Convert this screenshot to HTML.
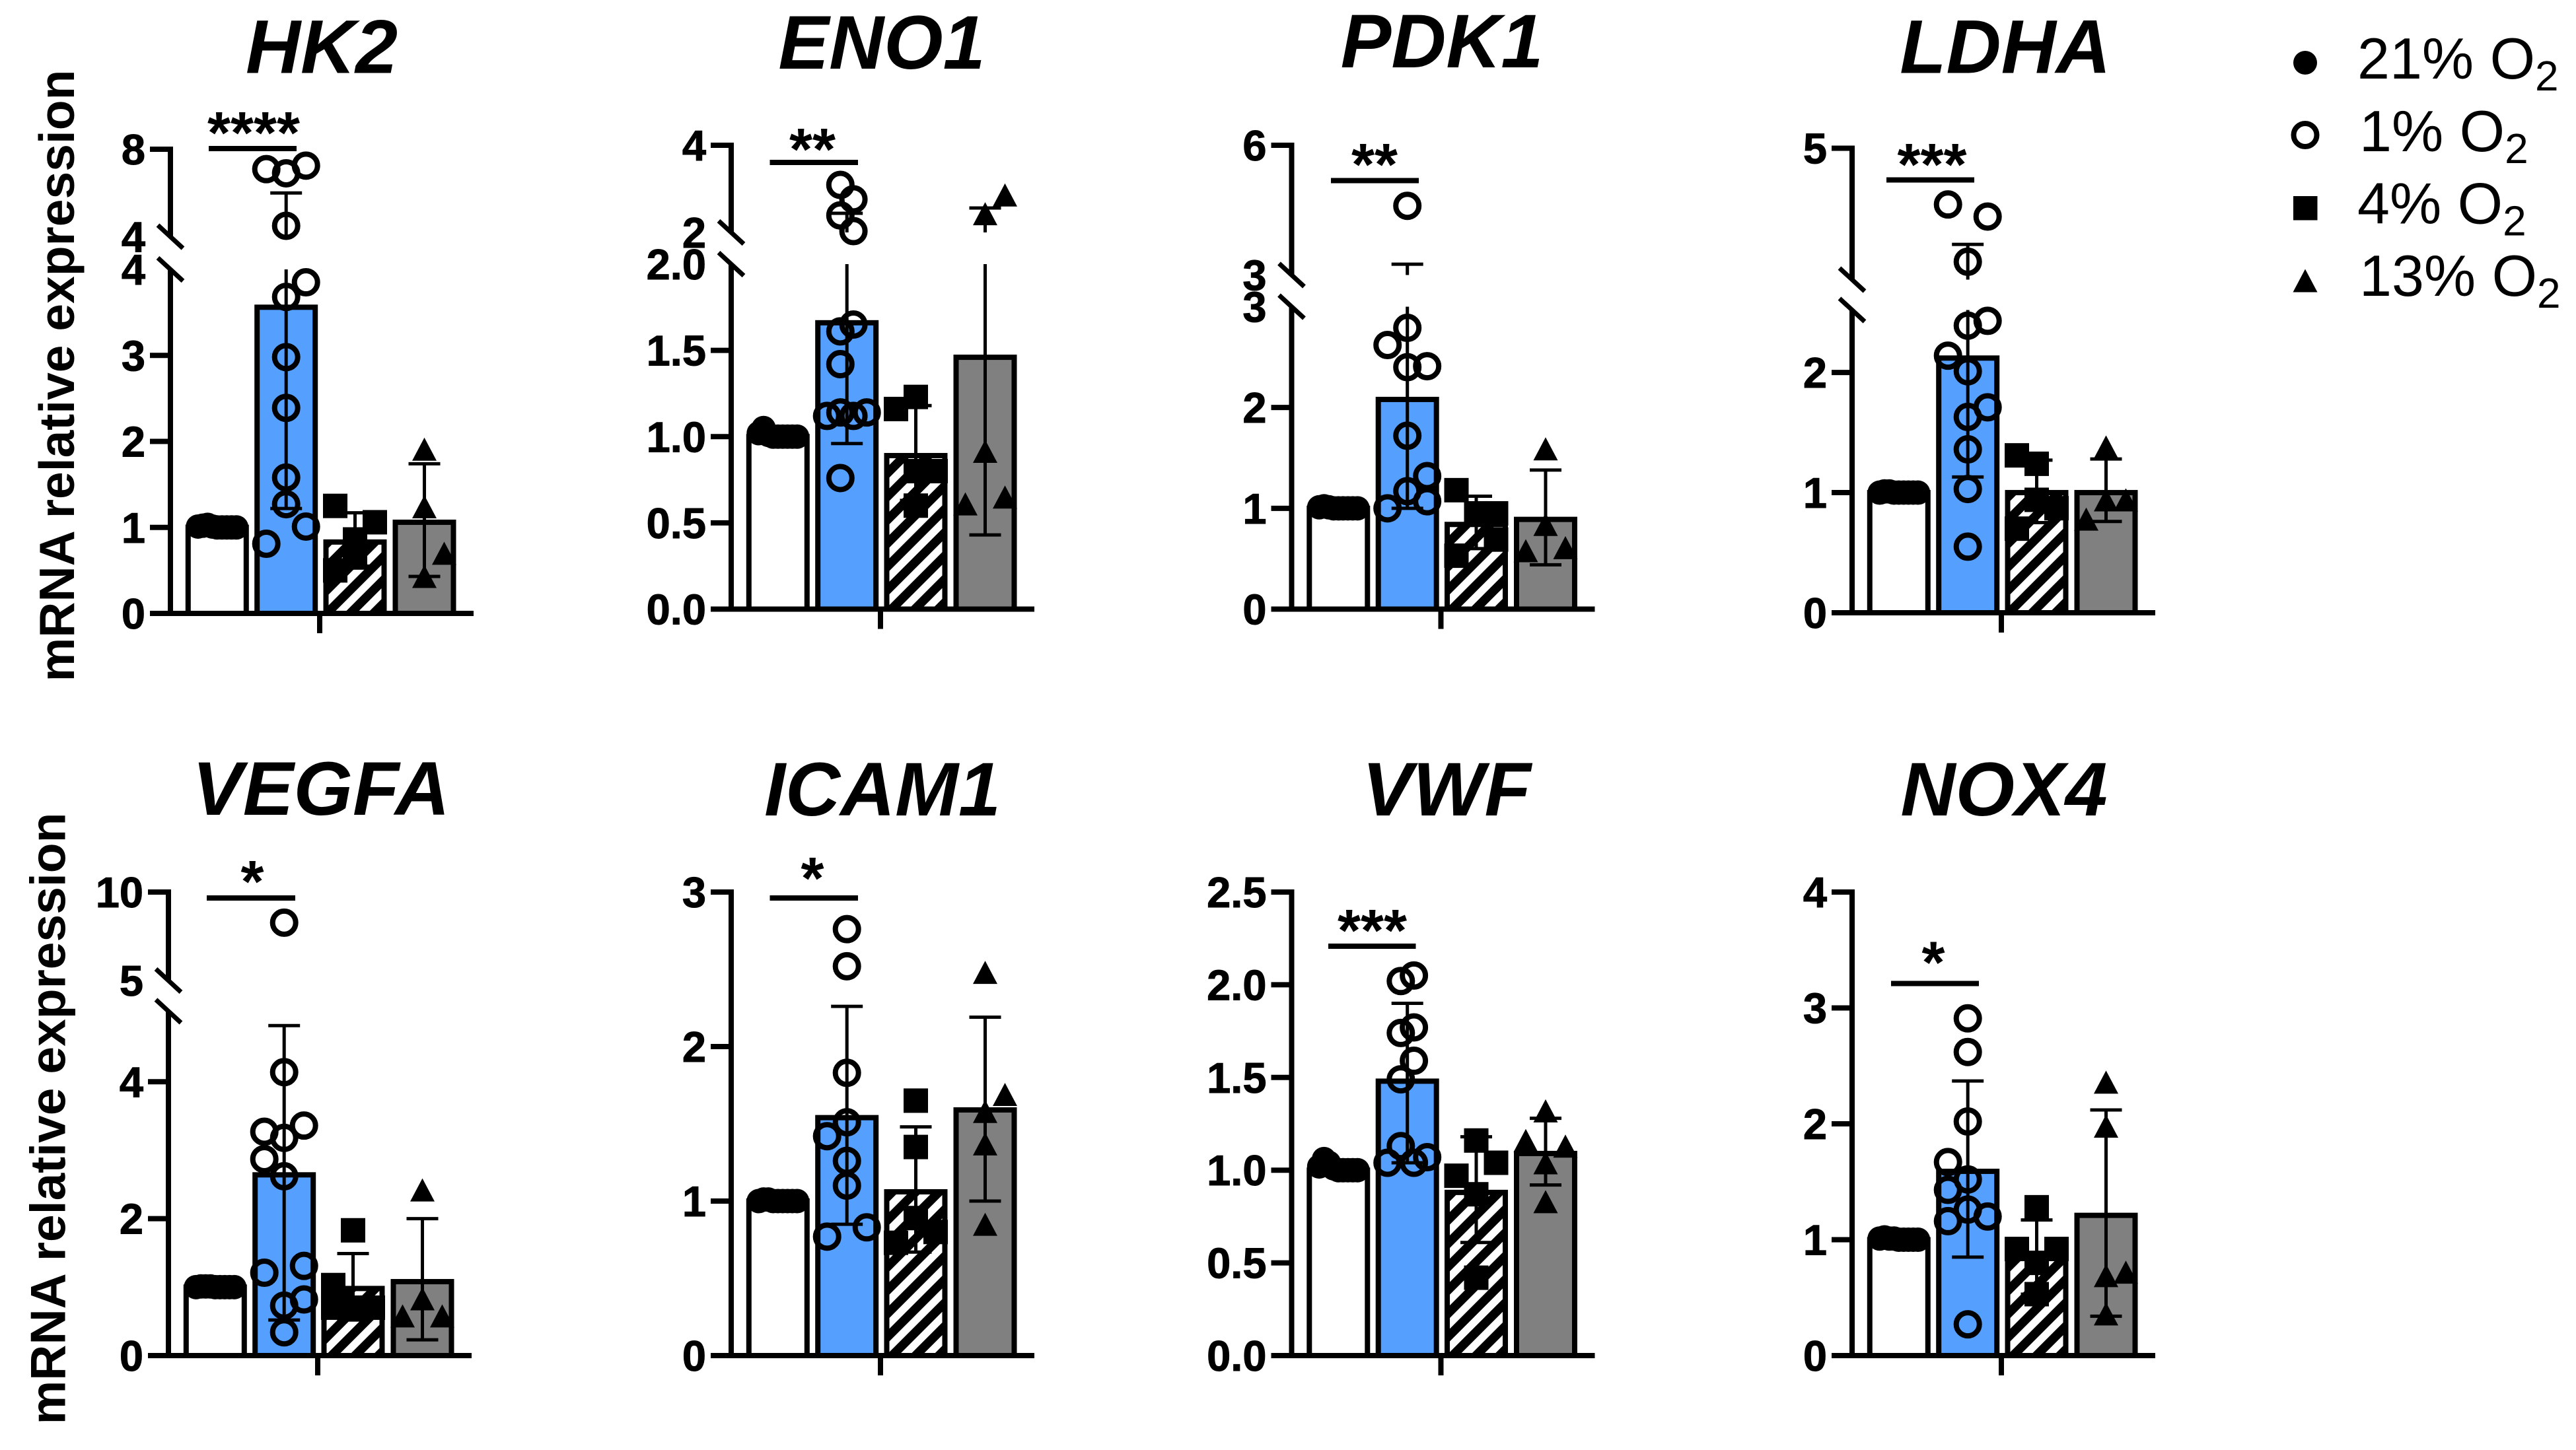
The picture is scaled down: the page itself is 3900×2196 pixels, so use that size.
<!DOCTYPE html>
<html lang="en">
<head>
<meta charset="utf-8">
<title>mRNA relative expression under oxygen conditions</title>
<style>
html,body{margin:0;padding:0;background:#fff;width:3900px;height:2196px;overflow:hidden}
svg{display:block}
text{font-family:"Liberation Sans",sans-serif;fill:#000}
.title{font-size:115px;font-weight:bold;font-style:italic;text-anchor:middle}
.ytitle{font-size:75px;font-weight:bold;text-anchor:middle}
.stars{font-size:90px;font-weight:bold;text-anchor:middle}
.tick{font-size:65px;font-weight:bold;text-anchor:end;stroke:#000;stroke-width:1px}
.legend{font-size:88px}
.sub{font-size:64px}
</style>
</head>
<body>
<svg id="chart" xmlns="http://www.w3.org/2000/svg" width="3900" height="2196" viewBox="0 0 3900 2196">
  <defs>
    <pattern id="hatch" width="25" height="25" patternUnits="userSpaceOnUse" patternTransform="rotate(-45)">
      <rect width="25" height="25" fill="#fff"/>
      <rect width="25" height="13.5" fill="#000"/>
    </pattern>
  </defs>
  <rect width="3900" height="2196" fill="#fff"/>

  <text class="ytitle" transform="translate(112 569) rotate(-90)">mRNA relative expression</text>
  <text class="ytitle" transform="translate(98.5 1694) rotate(-90)">mRNA relative expression</text>

  <text class="title" x="487" y="110.5">HK2</text>
  <text class="title" x="1335" y="104">ENO1</text>
  <text class="title" x="2183" y="102">PDK1</text>
  <text class="title" x="3036" y="110.5">LDHA</text>
  <text class="title" x="486" y="1234">VEGFA</text>
  <text class="title" x="1336" y="1235">ICAM1</text>
  <text class="title" x="2190" y="1235">VWF</text>
  <text class="title" x="3034" y="1235">NOX4</text>

  <g>
    <line x1="316" x2="449" y1="225" y2="225" stroke="#000" stroke-width="8"/>
    <text class="stars" x="384" y="232">****</text>
  </g>
  <g>
    <line x1="1165.5" x2="1299" y1="246" y2="246" stroke="#000" stroke-width="8"/>
    <text class="stars" x="1230" y="257">**</text>
  </g>
  <g>
    <line x1="2015" x2="2148" y1="273.5" y2="273.5" stroke="#000" stroke-width="8"/>
    <text class="stars" x="2081" y="280">**</text>
  </g>
  <g>
    <line x1="2856" x2="2989" y1="272.5" y2="272.5" stroke="#000" stroke-width="8"/>
    <text class="stars" x="2925" y="280">***</text>
  </g>
  <g>
    <line x1="313" x2="447" y1="1360" y2="1360" stroke="#000" stroke-width="8"/>
    <text class="stars" x="382" y="1366">*</text>
  </g>
  <g>
    <line x1="1165.5" x2="1299" y1="1360" y2="1360" stroke="#000" stroke-width="8"/>
    <text class="stars" x="1230" y="1361">*</text>
  </g>
  <g>
    <line x1="2011" x2="2143.5" y1="1433" y2="1433" stroke="#000" stroke-width="8"/>
    <text class="stars" x="2077.5" y="1440">***</text>
  </g>
  <g>
    <line x1="2863" x2="2996" y1="1489.5" y2="1489.5" stroke="#000" stroke-width="8"/>
    <text class="stars" x="2927" y="1488.5">*</text>
  </g>

  <g id="panels"></g>

  <g>
    <g>
      <circle cx="3490" cy="95" r="18" fill="#000"/>
      <text class="legend" x="3569" y="119">21% O<tspan class="sub" dy="18">2</tspan></text>
    </g>
    <g>
      <circle cx="3490" cy="204.5" r="17.5" fill="none" stroke="#000" stroke-width="8"/>
      <text class="legend" x="3572" y="229">1% O<tspan class="sub" dy="18">2</tspan></text>
    </g>
    <g>
      <rect x="3472" y="297" width="36.5" height="36.5" fill="#000"/>
      <text class="legend" x="3569" y="338.5">4% O<tspan class="sub" dy="18">2</tspan></text>
    </g>
    <g>
      <polygon points="3490,407.5 3508.5,442.5 3471.5,442.5" fill="#000"/>
      <text class="legend" x="3572" y="448">13% O<tspan class="sub" dy="18">2</tspan></text>
    </g>
  </g>
</svg>

<script>
// Shared jitter column order for the tightly packed 21% O2 replicates
const controlSlots = [-1, -0.75, -0.5, -0.25, 0, 0.25, 0.5, 0.75, 1];

// HK2
const hk2Means = [1.0, 3.56, 0.83, 1.06];
const hk2ErrHigh = [1.02, 6.0, 1.17, 1.74];
const hk2ErrLow = [0.98, 1.22, 0.55, 0.43];
const hk2Ticks = [0, 1, 2, 3];
const hk2Labels = ['0', '1', '2', '3', '4'];
const hk2LabelValues = [0, 1, 2, 3, 4];
const hk2UpperLabels = ['4', '8'];
const hk2UpperValues = [4, 8];
const hk2Control = [1.01, 1.02, 1.03, 1.01, 1.0, 1.0, 1.0, 1.0, 1.0];
const hk2Group1 = [7.09, 6.9, 7.25, 4.5, 3.85, 3.68, 2.98, 2.39, 1.58, 1.27, 1.01, 0.81];
const hk2Group1Slots = [-1, 0, 1, 0, 1, 0, 0, 0, 0, 0, 1, -1];
const hk2Group4 = [1.25, 1.06, 0.86, 0.65, 0.5];
const hk2Group4Slots = [-1, 1, 0, 0, -1];
const hk2Group13 = [1.91, 1.24, 0.7, 0.43];
const hk2Group13Slots = [0, 0, 1, 0];

// ENO1
const eno1Means = [1.0, 1.66, 0.89, 1.46];
const eno1ErrHigh = [1.02, 2.44, 1.18, 2.56];
const eno1ErrLow = [0.98, 0.96, 0.63, 0.43];
const eno1Ticks = [0, 0.5, 1, 1.5];
const eno1Labels = ['0.0', '0.5', '1.0', '1.5', '2.0'];
const eno1LabelValues = [0, 0.5, 1, 1.5, 2];
const eno1UpperLabels = ['2', '4'];
const eno1UpperValues = [2, 4];
const eno1Control = [1.02, 1.05, 1.01, 1.0, 1.0, 1.0, 1.0, 1.0, 1.0];
const eno1Group1 = [3.09, 2.76, 2.39, 2.03, 1.65, 1.61, 1.42, 1.14, 1.12, 1.12, 1.14, 0.76];
const eno1Group1Slots = [-0.33, 0.33, -0.33, 0.33, 0.33, -0.33, -0.33, -0.33, -1, 0.33, 1, -0.33];
const eno1Group4 = [1.16, 1.23, 0.8, 0.8, 0.6];
const eno1Group4Slots = [-1, 0, 0, 1, 0];
const eno1Group13 = [2.86, 2.43, 0.915, 0.61, 0.65];
const eno1Group13Slots = [1, 0, 0, -1, 1];

// PDK1
const pdk1Means = [1.0, 2.08, 0.84, 0.89];
const pdk1ErrHigh = [1.02, 3.25, 1.12, 1.38];
const pdk1ErrLow = [0.98, 1.0, 0.6, 0.44];
const pdk1Ticks = [0, 1, 2];
const pdk1Labels = ['0', '1', '2', '3'];
const pdk1LabelValues = [0, 1, 2, 3];
const pdk1UpperLabels = ['3', '6'];
const pdk1UpperValues = [3, 6];
const pdk1Control = [1.01, 1.02, 1.01, 1.0, 1.0, 1.0, 1.0, 1.0, 1.0];
const pdk1Group1 = [4.6, 2.79, 2.62, 2.4, 2.41, 1.72, 1.32, 1.17, 1.07, 1.0];
const pdk1Group1Slots = [0, 0, -1, 0, 1, 0, 1, 0, 1, -1];
const pdk1Group4 = [1.18, 0.95, 0.95, 0.69, 0.53];
const pdk1Group4Slots = [-1, 0, 1, 1, -1];
const pdk1Group13 = [1.59, 0.84, 0.58, 0.61];
const pdk1Group13Slots = [0, 0, -1, 1];

// LDHA
const ldhaMeans = [1.0, 2.12, 1.0, 1.0];
const ldhaErrHigh = [1.02, 3.17, 1.27, 1.28];
const ldhaErrLow = [0.98, 1.13, 0.75, 0.76];
const ldhaTicks = [0, 1, 2];
const ldhaLabels = ['0', '1', '2'];
const ldhaLabelValues = [0, 1, 2];
const ldhaUpperLabels = ['5'];
const ldhaUpperValues = [5];
const ldhaControl = [1.0, 1.01, 1.01, 1.0, 1.0, 1.0, 1.0, 1.0, 1.0];
const ldhaGroup1 = [3.93, 3.7, 2.84, 2.43, 2.39, 2.14, 2.01, 1.71, 1.63, 1.36, 1.03, 0.55];
const ldhaGroup1Slots = [-1, 1, 0, 1, 0, -1, 0, 1, 0, 0, 0, 0];
const ldhaGroup4 = [1.31, 1.24, 0.94, 0.87, 0.7];
const ldhaGroup4Slots = [-1, 0, 0, 1, -1];
const ldhaGroup13 = [1.38, 0.94, 0.94, 0.78];
const ldhaGroup13Slots = [0, 0, 1, -1];

// VEGFA
const vegfaMeans = [1.0, 2.64, 0.98, 1.08];
const vegfaErrHigh = [1.02, 4.82, 1.49, 2.0];
const vegfaErrLow = [0.98, 0.52, 0.52, 0.23];
const vegfaTicks = [0, 2, 4];
const vegfaLabels = ['0', '2', '4'];
const vegfaLabelValues = [0, 2, 4];
const vegfaUpperLabels = ['5', '10'];
const vegfaUpperValues = [5, 10];
const vegfaControl = [1.0, 1.01, 1.01, 1.01, 1.0, 1.0, 1.0, 1.0, 1.0];
const vegfaGroup1 = [8.27, 4.14, 3.36, 3.27, 3.18, 2.87, 2.62, 1.31, 1.21, 0.82, 0.73, 0.34];
const vegfaGroup1Slots = [0, 0, 1, -1, 0, -1, 0, 1, -1, 1, 0, 0];
const vegfaGroup4 = [1.83, 1.03, 0.7, 0.7, 0.7];
const vegfaGroup4Slots = [0, -1, 0, 1, -1];
const vegfaGroup13 = [2.42, 0.83, 0.58, 0.58];
const vegfaGroup13Slots = [0, 0, -1, 1];

// ICAM1
const icam1Means = [1.0, 1.54, 1.06, 1.59];
const icam1ErrHigh = [1.02, 2.26, 1.48, 2.19];
const icam1ErrLow = [0.98, 0.85, 0.67, 1.0];
const icam1Ticks = [0, 1, 2, 3];
const icam1Labels = ['0', '1', '2', '3'];
const icam1LabelValues = [0, 1, 2, 3];
const icam1Control = [1.0, 1.01, 1.01, 1.0, 1.0, 1.0, 1.0, 1.0, 1.0];
const icam1Group1 = [2.76, 2.52, 1.83, 1.51, 1.42, 1.26, 1.1, 0.83, 0.77];
const icam1Group1Slots = [0, 0, 0, 0, -1, 0, 0, 1, -1];
const icam1Group4 = [1.65, 1.35, 0.89, 0.8, 0.73];
const icam1Group4Slots = [0, 0, 0, 1, -1];
const icam1Group13 = [2.48, 1.69, 1.58, 1.37, 0.85];
const icam1Group13Slots = [0, 1, 0, 0, 0];

// VWF
const vwfMeans = [1.0, 1.48, 0.88, 1.09];
const vwfErrHigh = [1.02, 1.9, 1.18, 1.28];
const vwfErrLow = [0.98, 1.04, 0.61, 0.92];
const vwfTicks = [0, 0.5, 1, 1.5, 2, 2.5];
const vwfLabels = ['0.0', '0.5', '1.0', '1.5', '2.0', '2.5'];
const vwfLabelValues = [0, 0.5, 1, 1.5, 2, 2.5];
const vwfControl = [1.02, 1.06, 1.04, 1.01, 1.0, 1.0, 1.0, 1.0, 1.0];
const vwfGroup1 = [2.05, 2.02, 1.77, 1.74, 1.59, 1.49, 1.13, 1.07, 1.04, 1.04];
const vwfGroup1Slots = [0.33, -0.33, 0.33, -0.33, 0.33, -0.33, -0.33, 1, -1, 0.33];
const vwfGroup4 = [1.16, 1.04, 0.97, 0.87, 0.42];
const vwfGroup4Slots = [0, 1, -1, 0, 0];
const vwfGroup13 = [1.32, 1.13, 1.16, 1.04, 0.83];
const vwfGroup13Slots = [0, 1, -1, 0, 0];

// NOX4
const nox4Means = [1.0, 1.59, 0.84, 1.21];
const nox4ErrHigh = [1.02, 2.37, 1.17, 2.12];
const nox4ErrLow = [0.98, 0.85, 0.53, 0.34];
const nox4Ticks = [0, 1, 2, 3, 4];
const nox4Labels = ['0', '1', '2', '3', '4'];
const nox4LabelValues = [0, 1, 2, 3, 4];
const nox4Control = [1.01, 1.02, 1.01, 1.01, 1.0, 1.0, 1.0, 1.0, 1.0];
const nox4Group1 = [2.91, 2.62, 2.02, 1.67, 1.52, 1.43, 1.26, 1.2, 1.16, 0.27];
const nox4Group1Slots = [0, 0, 0, -1, 0, -1, 0, 1, -1, 0];
const nox4Group4 = [1.28, 0.92, 0.92, 0.8, 0.53];
const nox4Group4Slots = [0, -1, 1, 0, 0];
const nox4Group13 = [2.36, 1.98, 0.69, 0.72, 0.36];
const nox4Group13Slots = [0, 0, 0, 1, 0];

const NS = 'http://www.w3.org/2000/svg';
const SLOT_PX = 30;
const BAR_OFFSETS = [70.8, 175.2, 279.5, 384.5];
const BAR_W = 88;
const BAR_FILLS = ['#ffffff', '#559fff', 'url(#hatch)', '#808080'];

function mk(tag, attrs, parent) {
  const el = document.createElementNS(NS, tag);
  for (const k in attrs) el.setAttribute(k, attrs[k]);
  parent.appendChild(el);
  return el;
}

const panels = [
  {gene:'hk2', ax:258, base:929, lowerMax:4, lowerTop:408, upperMin:4, upperMax:8, upperBottom:358.5, top:226,
   means:hk2Means, hi:hk2ErrHigh, lo:hk2ErrLow, ticks:hk2Ticks, labels:hk2Labels, labelVals:hk2LabelValues, upLabels:hk2UpperLabels, upVals:hk2UpperValues,
   c:hk2Control, g1:hk2Group1, s1:hk2Group1Slots, g4:hk2Group4, s4:hk2Group4Slots, g13:hk2Group13, s13:hk2Group13Slots},
  {gene:'eno1', ax:1107, base:922.5, lowerMax:2, lowerTop:400, upperMin:2, upperMax:4, upperBottom:352, top:220,
   means:eno1Means, hi:eno1ErrHigh, lo:eno1ErrLow, ticks:eno1Ticks, labels:eno1Labels, labelVals:eno1LabelValues, upLabels:eno1UpperLabels, upVals:eno1UpperValues,
   c:eno1Control, g1:eno1Group1, s1:eno1Group1Slots, g4:eno1Group4, s4:eno1Group4Slots, g13:eno1Group13, s13:eno1Group13Slots},
  {gene:'pdk1', ax:1955.5, base:922.5, lowerMax:3, lowerTop:464.5, upperMin:3, upperMax:6, upperBottom:416.5, top:220,
   means:pdk1Means, hi:pdk1ErrHigh, lo:pdk1ErrLow, ticks:pdk1Ticks, labels:pdk1Labels, labelVals:pdk1LabelValues, upLabels:pdk1UpperLabels, upVals:pdk1UpperValues,
   c:pdk1Control, g1:pdk1Group1, s1:pdk1Group1Slots, g4:pdk1Group4, s4:pdk1Group4Slots, g13:pdk1Group13, s13:pdk1Group13Slots},
  {gene:'ldha', ax:2804, base:928, lowerMax:2.52, lowerTop:469.5, upperMin:2.5, upperMax:5, upperBottom:423.5, top:224.5,
   means:ldhaMeans, hi:ldhaErrHigh, lo:ldhaErrLow, ticks:ldhaTicks, labels:ldhaLabels, labelVals:ldhaLabelValues, upLabels:ldhaUpperLabels, upVals:ldhaUpperValues,
   c:ldhaControl, g1:ldhaGroup1, s1:ldhaGroup1Slots, g4:ldhaGroup4, s4:ldhaGroup4Slots, g13:ldhaGroup13, s13:ldhaGroup13Slots},
  {gene:'vegfa', ax:255, base:2053, lowerMax:5.03, lowerTop:1531.5, upperMin:5, upperMax:10, upperBottom:1485, top:1351,
   means:vegfaMeans, hi:vegfaErrHigh, lo:vegfaErrLow, ticks:vegfaTicks, labels:vegfaLabels, labelVals:vegfaLabelValues, upLabels:vegfaUpperLabels, upVals:vegfaUpperValues,
   c:vegfaControl, g1:vegfaGroup1, s1:vegfaGroup1Slots, g4:vegfaGroup4, s4:vegfaGroup4Slots, g13:vegfaGroup13, s13:vegfaGroup13Slots},
  {gene:'icam1', ax:1107, base:2053, lowerMax:3, lowerTop:1351,
   means:icam1Means, hi:icam1ErrHigh, lo:icam1ErrLow, ticks:icam1Ticks, labels:icam1Labels, labelVals:icam1LabelValues,
   c:icam1Control, g1:icam1Group1, s1:icam1Group1Slots, g4:icam1Group4, s4:icam1Group4Slots, g13:icam1Group13, s13:icam1Group13Slots},
  {gene:'vwf', ax:1955.5, base:2053, lowerMax:2.5, lowerTop:1351,
   means:vwfMeans, hi:vwfErrHigh, lo:vwfErrLow, ticks:vwfTicks, labels:vwfLabels, labelVals:vwfLabelValues,
   c:vwfControl, g1:vwfGroup1, s1:vwfGroup1Slots, g4:vwfGroup4, s4:vwfGroup4Slots, g13:vwfGroup13, s13:vwfGroup13Slots},
  {gene:'nox4', ax:2804, base:2053, lowerMax:4, lowerTop:1351,
   means:nox4Means, hi:nox4ErrHigh, lo:nox4ErrLow, ticks:nox4Ticks, labels:nox4Labels, labelVals:nox4LabelValues,
   c:nox4Control, g1:nox4Group1, s1:nox4Group1Slots, g4:nox4Group4, s4:nox4Group4Slots, g13:nox4Group13, s13:nox4Group13Slots}
];

const root = document.getElementById('panels');

panels.forEach(function (p) {
  const hasBreak = p.upperMin !== undefined;
  function yLower(v) { return p.base - (v / p.lowerMax) * (p.base - p.lowerTop); }
  function yUpper(v) { return p.upperBottom - ((v - p.upperMin) / (p.upperMax - p.upperMin)) * (p.upperBottom - p.top); }
  function y(v) { return (hasBreak && v > p.lowerMax) ? yUpper(v) : yLower(v); }

  const g = mk('g', {}, root);
  
  

  // bars
  p.means.forEach(function (m, i) {
    const cx = p.ax + BAR_OFFSETS[i];
    const bar = mk('rect', {x: cx - BAR_W / 2, y: y(m), width: BAR_W, height: p.base - y(m), fill: BAR_FILLS[i], stroke: '#000', 'stroke-width': 8}, g);
    
    
  });

  // axes
  const axisLow = mk('line', {x1: p.ax, x2: p.ax, y1: p.base, y2: hasBreak ? p.lowerTop : p.lowerTop - 4, stroke: '#000', 'stroke-width': 8}, g);
  
  
  if (hasBreak) {
    const axisUp = mk('line', {x1: p.ax, x2: p.ax, y1: p.upperBottom, y2: p.top - 4, stroke: '#000', 'stroke-width': 8}, g);
    
    
    [p.upperBottom, p.lowerTop].forEach(function (yy, i) {
      const slash = mk('line', {x1: p.ax - 19, x2: p.ax + 19, y1: yy - 17.5, y2: yy + 17.5, stroke: '#000', 'stroke-width': 7}, g);
      
      
    });
    const topTick = mk('line', {x1: p.ax - 31, x2: p.ax, y1: p.top, y2: p.top, stroke: '#000', 'stroke-width': 8}, g);
    
    
  }
  p.ticks.forEach(function (t) {
    const tick = mk('line', {x1: p.ax - 31, x2: p.ax, y1: yLower(t), y2: yLower(t), stroke: '#000', 'stroke-width': 8}, g);
    
    
  });
  p.labels.forEach(function (s, i) {
    const lab = mk('text', {class: 'tick', x: p.ax - 38, y: yLower(p.labelVals[i]) + 23}, g);
    lab.textContent = s;
    
    
  });
  if (hasBreak) {
    p.upLabels.forEach(function (s, i) {
      const lab = mk('text', {class: 'tick', x: p.ax - 38, y: yUpper(p.upVals[i]) + 23}, g);
      lab.textContent = s;
      
      
    });
  }
  const xAxis = mk('line', {x1: p.ax - 31, x2: p.ax + 459, y1: p.base, y2: p.base, stroke: '#000', 'stroke-width': 8}, g);
  
  
  const xTick = mk('line', {x1: p.ax + 226, x2: p.ax + 226, y1: p.base, y2: p.base + 30, stroke: '#000', 'stroke-width': 8}, g);
  
  

  // error bars
  p.means.forEach(function (m, i) {
    if (i === 0) return;
    const cx = p.ax + BAR_OFFSETS[i];
    const hi = p.hi[i], lo = p.lo[i];
    const broke = hasBreak && hi > p.lowerMax;
    const stem = mk('line', {x1: cx, x2: cx, y1: yLower(lo), y2: broke ? yLower(p.lowerMax) : yLower(hi), stroke: '#000', 'stroke-width': 5}, g);
    
    
    if (broke) {
      const stemUp = mk('line', {x1: cx, x2: cx, y1: yUpper(p.upperMin), y2: yUpper(hi), stroke: '#000', 'stroke-width': 5}, g);
      
      
    }
    [hi, lo].forEach(function (v) {
      const cap = mk('line', {x1: cx - 24, x2: cx + 24, y1: y(v), y2: y(v), stroke: '#000', 'stroke-width': 5}, g);
      
      
    });
  });

  // points: 21% O2
  p.c.forEach(function (v, i) {
    const dot = mk('circle', {cx: p.ax + BAR_OFFSETS[0] + controlSlots[i] * 29, cy: y(v), r: 18.5, fill: '#000'}, g);
    
    
  });
  // points: 1% O2
  p.g1.forEach(function (v, i) {
    const dot = mk('circle', {cx: p.ax + BAR_OFFSETS[1] + p.s1[i] * SLOT_PX, cy: y(v), r: 17.5, fill: 'none', stroke: '#000', 'stroke-width': 8}, g);
    
    
  });
  // points: 4% O2
  p.g4.forEach(function (v, i) {
    const sq = mk('rect', {x: p.ax + BAR_OFFSETS[2] + p.s4[i] * SLOT_PX - 18.5, y: y(v) - 18.5, width: 37, height: 37, fill: '#000'}, g);
    
    
  });
  // points: 13% O2
  p.g13.forEach(function (v, i) {
    const cx = p.ax + BAR_OFFSETS[3] + p.s13[i] * SLOT_PX;
    const cy = y(v);
    const tri = mk('polygon', {points: cx + ',' + (cy - 17.5) + ' ' + (cx + 18.5) + ',' + (cy + 17.5) + ' ' + (cx - 18.5) + ',' + (cy + 17.5), fill: '#000'}, g);
    
    
  });
});
</script>
</body>
</html>
